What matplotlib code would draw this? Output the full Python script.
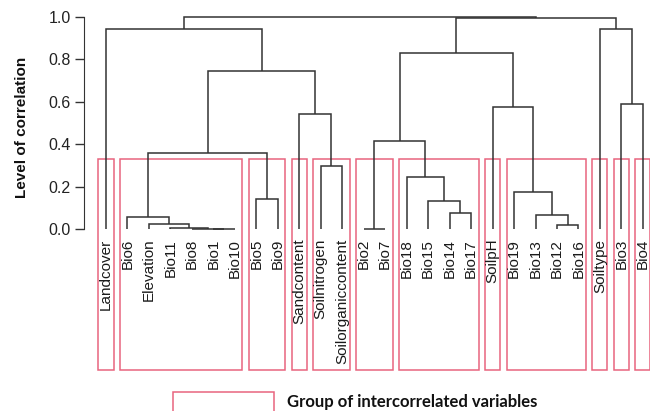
import matplotlib
matplotlib.use("Agg")
import matplotlib.pyplot as plt
from matplotlib.patches import Rectangle

# ---------------- data ----------------
leaves = ["Landcover", "Bio6", "Elevation", "Bio11", "Bio8", "Bio1", "Bio10",
          "Bio5", "Bio9", "Sandcontent", "Soilnitrogen", "Soilorganiccontent",
          "Bio2", "Bio7", "Bio18", "Bio15", "Bio14", "Bio17", "SoilpH",
          "Bio19", "Bio13", "Bio12", "Bio16", "Soiltype", "Bio3", "Bio4"]

# merges: (child_a, child_b); ids < len(leaves) are leaves, else merged node id
merge_left = [5, 4, 3, 2, 1, 7, 30, 10, 9, 32, 0, 12, 16, 15, 14, 37, 21, 20, 19, 18, 41, 24, 23, 46, 36]
merge_right = [6, 26, 27, 28, 29, 8, 31, 11, 33, 34, 35, 13, 17, 38, 39, 40, 22, 42, 43, 44, 45, 25, 47, 48, 49]
merge_height = [0.001, 0.002, 0.005, 0.026, 0.058, 0.143, 0.357, 0.299, 0.542,
                0.746, 0.941, 0.003, 0.077, 0.132, 0.245, 0.417, 0.020, 0.067,
                0.175, 0.575, 0.831, 0.588, 0.941, 0.995, 1.0]

# groups of intercorrelated variables (first leaf, last leaf)
group_first = [0, 1, 7, 9, 10, 12, 14, 18, 19, 23, 24, 25]
group_last = [0, 6, 8, 9, 11, 13, 17, 18, 22, 23, 24, 25]

yticks = [0.0, 0.2, 0.4, 0.6, 0.8, 1.0]
ylabel = "Level of correlation"
legend_label = "Group of intercorrelated variables"

# ---------------- plot ----------------
plt.rcParams['font.family'] = ['Liberation Sans', 'DejaVu Sans']
W, H = 650, 411
fig = plt.figure(figsize=(W / 100, H / 100), dpi=100)
ax = fig.add_axes([84 / W, (H - 378.1) / H, 566 / W, (378.1 - 12.4) / H])
ax.set_xlim(-1.024, 25.33)
ax.set_ylim(-0.7, 1.02)

line_col = "#333333"
box_col = "#e8647e"
n = len(leaves)
xpos = {i: float(i) for i in range(n)}
ypos = {i: 0.0 for i in range(n)}
for k, (a, b, h) in enumerate(zip(merge_left, merge_right, merge_height)):
    node = n + k
    xa, xb = xpos[a], xpos[b]
    ax.plot([xa, xa, xb, xb], [ypos[a], h, h, ypos[b]], color=line_col,
            lw=1.1, solid_capstyle='butt', solid_joinstyle='miter', clip_on=False)
    xpos[node] = (xa + xb) / 2
    ypos[node] = h

for i, name in enumerate(leaves):
    ax.text(i, -0.045, name, rotation=90, ha='center', va='top', fontsize=11,
            color='#1a1a1a')

pad = 0.35
for f, l in zip(group_first, group_last):
    ax.add_patch(Rectangle((f - pad, -0.662), (l - f) + 2 * pad, 0.329 + 0.662,
                           fill=False, edgecolor=box_col, lw=1.1, clip_on=False))

for s in ["top", "right", "bottom"]:
    ax.spines[s].set_visible(False)
ax.spines["left"].set_bounds(0, 1)
ax.spines["left"].set_color(line_col)
ax.set_xticks([])
ax.set_yticks(yticks)
ax.set_yticklabels([f"{v:.1f}" for v in yticks], fontsize=11.5, color='#222222')
ax.tick_params(axis='y', length=6.5, width=1.0, color=line_col, pad=3)

fig.text(22 / W, 1 - 127.5 / H, ylabel, rotation=90, ha='center', va='center',
         fontsize=11, fontweight='bold', color='#111111')

fig.patches.append(Rectangle((172.7 / W, -0.01), 101.3 / W, 0.01 + (H - 392.3) / H,
                             transform=fig.transFigure, fill=False,
                             edgecolor=box_col, lw=1.1))
fig.text(286.7 / W, 1 - 401.5 / H, legend_label, ha='left', va='center',
         fontsize=12, fontweight='bold', family=['Lato', 'DejaVu Sans'],
         color='#111111')

fig.savefig("out.png", dpi=100)
